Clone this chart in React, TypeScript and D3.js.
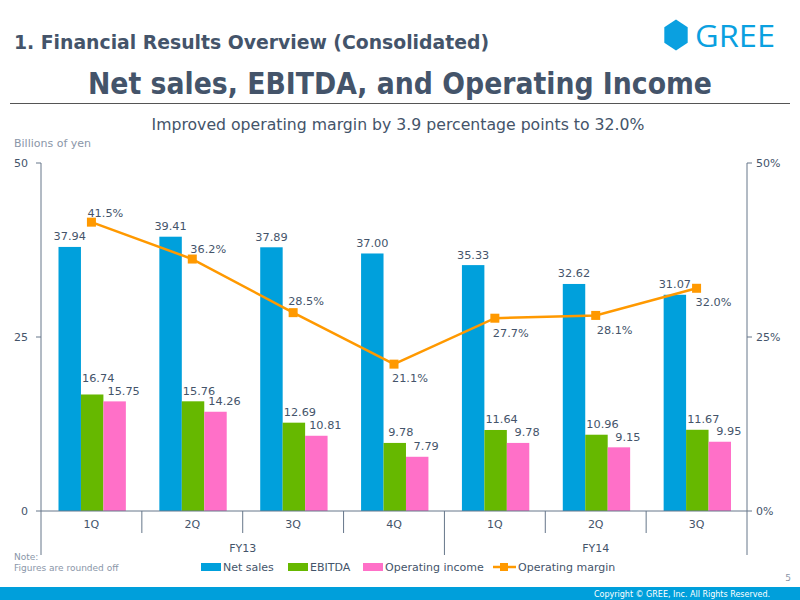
import React from "react";
import * as d3 from "d3";

// quarters and fiscal years
const categories = ["1Q", "2Q", "3Q", "4Q", "1Q", "2Q", "3Q"];
const fiscalYears = ["FY13", "FY14"];
const fiscalYearOf = [0, 0, 0, 0, 1, 1, 1];

// billions of yen
const netSales = [37.94, 39.41, 37.89, 37.0, 35.33, 32.62, 31.07];
const ebitda = [16.74, 15.76, 12.69, 9.78, 11.64, 10.96, 11.67];
const opIncome = [15.75, 14.26, 10.81, 7.79, 9.78, 9.15, 9.95];
// percent
const opMargin = [41.5, 36.2, 28.5, 21.1, 27.7, 28.1, 32.0];

const leftTicks = [0, 25, 50];
const rightTicks = [0, 25, 50];

const seriesNames = ["Net sales", "EBITDA", "Operating income"];
const lineName = "Operating margin";

const colors = ["#00a0dc", "#66b800", "#ff70c8"];
const lineColor = "#ff9900";
const textColor = "#44546a";
const greyText = "#8a96a8";
const axisColor = "#66768a";

// where the margin labels sit, relative to the marker
const marginLabelOffset = [
  [-4, -5], [-2, -6], [-5, -8], [-2, 18], [-2, 19], [1, 19], [-1, 18],
];
const ebitdaLabelLift = [12, 6, 7, 7, 7, 7, 7];

const font = "'DejaVu Sans', Verdana, sans-serif";

const App = () => {
  const left = 41, right = 747, top = 163, bottom = 511;

  const x = d3.scaleBand<number>()
    .domain(d3.range(categories.length))
    .range([left, right]);
  const bw = x.bandwidth();
  const x1 = d3.scaleBand<number>()
    .domain([0, 1, 2])
    .range([17.5, bw - 16]);
  const y = d3.scaleLinear().domain([0, 50]).range([bottom, top]);
  const yR = d3.scaleLinear().domain([0, 50]).range([bottom, top]);

  const series = [netSales, ebitda, opIncome];

  const line = d3.line<number>()
    .x((_, i) => x(i)! + bw / 2)
    .y((d) => yR(d));

  const fyExtent = fiscalYears.map((_, f) => {
    const idx = fiscalYearOf.map((v, i) => (v === f ? i : -1)).filter((i) => i >= 0);
    return [x(idx[0])!, x(idx[idx.length - 1])! + bw];
  });

  const hex = d3.range(6).map((k) => {
    const a = (Math.PI / 3) * k - Math.PI / 2;
    return [676 + 13.5 * Math.cos(a), 35 + 15.5 * Math.sin(a)];
  });

  return (
    <svg width={800} height={600} style={{ position: "absolute", left: 0, top: 0 }} fontFamily={font}>
      <rect width={800} height={600} fill="#fff" />
      {/* header */}
      <text x={14} y={49} fontSize={20} fontWeight="bold" fill={textColor}
        fontFamily="'DejaVu Sans Condensed', 'DejaVu Sans', sans-serif"
        textLength={475} lengthAdjust="spacingAndGlyphs">
        1. Financial Results Overview (Consolidated)
      </text>
      <polygon points={hex.map((p) => p.join(",")).join(" ")} fill="#0aa0e0" />
      <text x={695} y={47} fontSize={31} fill="#0aa0e0" fontFamily="'Open Sans', sans-serif"
        textLength={80} lengthAdjust="spacingAndGlyphs">GREE</text>
      <text x={400} y={94} fontSize={30} fontWeight="bold" fill={textColor} textAnchor="middle"
        fontFamily="'DejaVu Sans Condensed', 'DejaVu Sans', sans-serif"
        textLength={624} lengthAdjust="spacingAndGlyphs">
        Net sales, EBITDA, and Operating Income
      </text>
      <line x1={10} x2={790} y1={103.5} y2={103.5} stroke="#555" strokeWidth={1} />
      <text x={398} y={130} fontSize={15.5} fill={textColor} textAnchor="middle"
        textLength={493} lengthAdjust="spacingAndGlyphs">
        Improved operating margin by 3.9 percentage points to 32.0%
      </text>
      <text x={14} y={147} fontSize={11} fill={greyText}>Billions of yen</text>

      {/* bars */}
      {series.map((vals, s) =>
        vals.map((v, i) => (
          <rect key={`b${s}-${i}`} x={x(i)! + x1(s)!} y={y(v)} width={x1.bandwidth()}
            height={bottom - y(v)} fill={colors[s]} />
        ))
      )}

      {/* axes */}
      <line x1={left} x2={left} y1={top} y2={555} stroke={axisColor} />
      {leftTicks.map((t) => (
        <g key={`l${t}`}>
          <line x1={left - 5} x2={left} y1={y(t)} y2={y(t)} stroke={axisColor} />
          <text x={28} y={y(t) + 4} fontSize={11} fill={textColor} textAnchor="end">{t}</text>
        </g>
      ))}
      <line x1={right} x2={right} y1={top} y2={555} stroke={axisColor} />
      {rightTicks.map((t) => (
        <g key={`r${t}`}>
          <line x1={right} x2={right + 5} y1={yR(t)} y2={yR(t)} stroke={axisColor} />
          <text x={756} y={yR(t) + 4} fontSize={11} fill={textColor}>{t}%</text>
        </g>
      ))}
      <line x1={left} x2={right} y1={bottom} y2={bottom} stroke={axisColor} />
      {categories.map((c, i) => {
        const edge = x(i)! + bw;
        const isFyEnd = i === categories.length - 1 || fiscalYearOf[i + 1] !== fiscalYearOf[i];
        return (
          <g key={`c${i}`}>
            {i < categories.length - 1 && (
              <line x1={edge} x2={edge} y1={bottom} y2={isFyEnd ? 555 : 533} stroke={axisColor} />
            )}
            <text x={x(i)! + bw / 2} y={528} fontSize={11} fill={textColor} textAnchor="middle">{c}</text>
          </g>
        );
      })}
      {fiscalYears.map((f, k) => (
        <text key={f} x={(fyExtent[k][0] + fyExtent[k][1]) / 2} y={552} fontSize={11}
          fill={textColor} textAnchor="middle">{f}</text>
      ))}

      {/* bar labels */}
      {netSales.map((v, i) => (
        <text key={`ln${i}`} x={x(i)! + x1(0)! + x1.bandwidth() / 2} y={y(v) - 6.5} fontSize={11.3}
          fill={textColor} textAnchor="middle">{v.toFixed(2)}</text>
      ))}
      {ebitda.map((v, i) => (
        <text key={`le${i}`} x={x(i)! + x1(1)! + x1.bandwidth() / 2 + 6} y={y(v) - ebitdaLabelLift[i]}
          fontSize={11.3} fill={textColor} textAnchor="middle">{v.toFixed(2)}</text>
      ))}
      {opIncome.map((v, i) => (
        <text key={`lo${i}`} x={x(i)! + x1(2)! + x1.bandwidth() / 2 + 9} y={y(v) - 6.5} fontSize={11.3}
          fill={textColor} textAnchor="middle">{v.toFixed(2)}</text>
      ))}

      {/* operating margin line */}
      <path d={line(opMargin)!} fill="none" stroke={lineColor} strokeWidth={2.5} />
      {opMargin.map((v, i) => {
        const mx = x(i)! + bw / 2, my = yR(v);
        return (
          <g key={`m${i}`}>
            <rect x={mx - 4.5} y={my - 4.5} width={9} height={9} fill={lineColor} />
            <text x={mx + marginLabelOffset[i][0]} y={my + marginLabelOffset[i][1]} fontSize={11.3}
              fill={textColor}>{v.toFixed(1)}%</text>
          </g>
        );
      })}

      {/* legend */}
      {seriesNames.map((n, s) => {
        const lx = [201, 288, 363][s];
        return (
          <g key={n}>
            <rect x={lx} y={563} width={20} height={8} fill={colors[s]} />
            <text x={lx + 22} y={571} fontSize={11} fill={textColor}>{n}</text>
          </g>
        );
      })}
      <line x1={493} x2={516} y1={567} y2={567} stroke={lineColor} strokeWidth={2.5} />
      <rect x={500} y={563} width={8} height={8} fill={lineColor} />
      <text x={518} y={571} fontSize={11} fill={textColor}>{lineName}</text>

      {/* notes and footer */}
      <text x={14} y={560} fontSize={9} fill={greyText}>Note:</text>
      <text x={14} y={571} fontSize={9} fill={greyText}>Figures are rounded off</text>
      <text x={791} y={581} fontSize={9} fill={greyText} textAnchor="end">5</text>
      <rect x={0} y={587} width={800} height={13} fill="#009fdb" />
      <text x={770} y={597} fontSize={8} fill="#fff" textAnchor="end">
        Copyright © GREE, Inc. All Rights Reserved.
      </text>
    </svg>
  );
};

export default App;
